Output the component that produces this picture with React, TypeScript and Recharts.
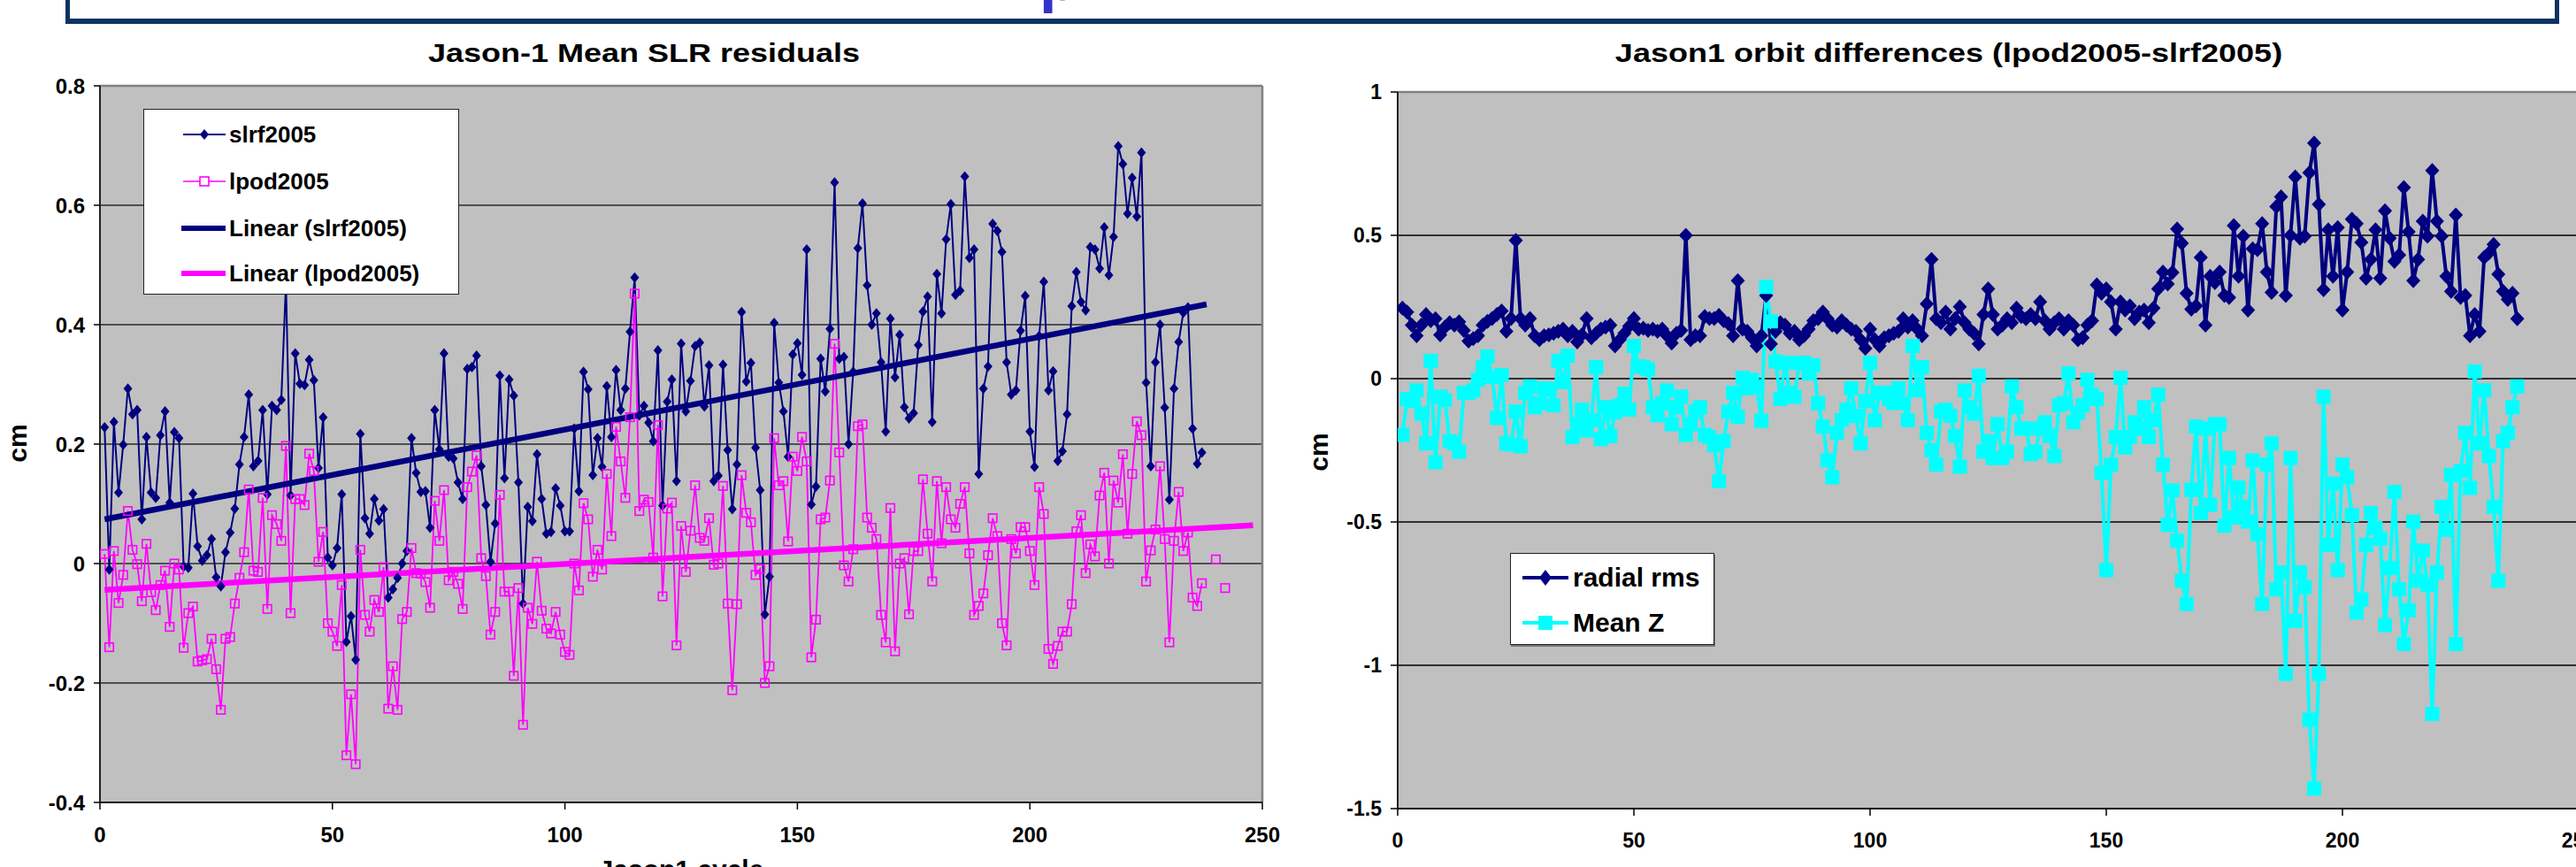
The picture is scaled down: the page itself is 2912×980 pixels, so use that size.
import React from 'react';
import { LineChart, Line, XAxis, YAxis, CartesianGrid, ReferenceLine, Legend } from 'recharts';

const FONT = "'Liberation Sans', Arial, Helvetica, sans-serif";

// ---------------- Left chart data (Jason-1 cycles, cm) ----------------
const leftFirstCycle = 1;
const slrf2005 = [
  0.228, -0.01, 0.237, 0.119, 0.199, 0.293, 0.25, 0.257, 0.074, 0.212,
  0.119, 0.11, 0.215, 0.255, 0.102, 0.22, 0.21, -0.005, -0.007, 0.117,
  0.029, 0.005, 0.014, 0.041, -0.023, -0.038, 0.019, 0.052, 0.092, 0.166,
  0.212, 0.283, 0.163, 0.172, 0.257, 0.116, 0.264, 0.257, 0.274, 0.47,
  0.114, 0.352, 0.301, 0.299, 0.341, 0.307, 0.16, 0.245, 0.01, -0.003,
  0.026, 0.116, -0.131, -0.088, -0.161, 0.217, 0.076, 0.05, 0.108, 0.072,
  0.091, -0.057, -0.043, -0.024, 0.0, 0.021, 0.21, 0.152, 0.12, 0.121,
  0.06, 0.257, 0.191, 0.352, 0.179, 0.176, 0.136, 0.108, 0.326, 0.329,
  0.348, 0.163, 0.098, 0.003, 0.067, 0.315, 0.143, 0.308, 0.281, 0.136,
  -0.067, 0.095, 0.071, 0.183, 0.108, 0.05, 0.053, 0.126, 0.097, 0.054,
  0.054, 0.226, 0.121, 0.321, 0.292, 0.148, 0.21, 0.162, 0.297, 0.212,
  0.324, 0.257, 0.293, 0.388, 0.479, 0.248, 0.264, 0.236, 0.205, 0.357,
  0.097, 0.271, 0.308, 0.138, 0.368, 0.255, 0.306, 0.364, 0.37, 0.263,
  0.332, 0.138, 0.147, 0.333, 0.19, 0.091, 0.166, 0.421, 0.305, 0.336,
  0.194, 0.123, -0.085, -0.022, 0.403, 0.303, 0.255, 0.179, 0.35, 0.369,
  0.316, 0.526, 0.099, 0.129, 0.343, 0.288, 0.393, 0.638, 0.343, 0.346,
  0.2, 0.321, 0.528, 0.603, 0.466, 0.4, 0.419, 0.337, 0.221, 0.41,
  0.312, 0.383, 0.262, 0.243, 0.252, 0.366, 0.422, 0.447, 0.237, 0.485,
  0.419, 0.543, 0.602, 0.45, 0.457, 0.648, 0.512, 0.526, 0.15, 0.293,
  0.33, 0.569, 0.557, 0.522, 0.337, 0.283, 0.29, 0.39, 0.448, 0.221,
  0.162, 0.381, 0.472, 0.29, 0.322, 0.172, 0.188, 0.25, 0.431, 0.488,
  0.438, 0.424, 0.53, 0.526, 0.494, 0.563, 0.483, 0.547, 0.699, 0.669,
  0.586, 0.646, 0.581, 0.688, 0.303, 0.163, 0.337, 0.4, 0.261, 0.107,
  0.293, 0.371, 0.42, 0.429, 0.226, 0.167, 0.186,
];
const lpod2005 = [
  0.016, -0.14, 0.021, -0.066, -0.019, 0.088, 0.023, -0.001, -0.063, 0.033,
  -0.048, -0.078, -0.036, -0.012, -0.106, 0.0, -0.01, -0.141, -0.083, -0.072,
  -0.164, -0.162, -0.16, -0.126, -0.177, -0.245, -0.126, -0.123, -0.067, -0.024,
  0.019, 0.124, -0.012, -0.014, 0.11, -0.076, 0.081, 0.066, 0.038, 0.197,
  -0.083, 0.108, 0.108, 0.098, 0.184, 0.155, 0.003, 0.053, -0.1, -0.114,
  -0.138, -0.036, -0.321, -0.219, -0.336, 0.023, -0.086, -0.114, -0.061, -0.081,
  -0.006, -0.243, -0.172, -0.245, -0.093, -0.081, 0.026, -0.016, -0.017, -0.031,
  -0.074, 0.105, 0.038, 0.123, -0.028, -0.014, -0.034, -0.076, 0.128, 0.154,
  0.181, 0.009, -0.021, -0.119, -0.081, 0.115, -0.047, -0.047, -0.188, -0.041,
  -0.27, -0.074, -0.101, 0.003, -0.079, -0.109, -0.117, -0.081, -0.119, -0.148,
  -0.153, 0.0, -0.045, 0.101, 0.074, -0.022, 0.023, -0.01, 0.15, 0.046,
  0.229, 0.171, 0.11, 0.245, 0.452, 0.088, 0.107, 0.103, 0.01, 0.232,
  -0.055, 0.092, 0.102, -0.137, 0.063, -0.014, 0.055, 0.131, 0.043, 0.038,
  0.076, -0.002, 0.0, 0.13, -0.067, -0.212, -0.068, 0.148, 0.085, 0.069,
  -0.019, -0.009, -0.2, -0.172, 0.21, 0.131, 0.138, 0.037, 0.179, 0.155,
  0.212, 0.171, -0.157, -0.094, 0.074, 0.077, 0.139, 0.368, 0.186, -0.003,
  -0.03, 0.024, 0.23, 0.233, 0.077, 0.06, 0.041, -0.086, -0.132, 0.093,
  -0.147, 0.0, 0.009, -0.085, 0.021, 0.021, 0.141, 0.05, -0.03, 0.138,
  0.034, 0.128, 0.074, 0.06, 0.1, 0.128, 0.017, -0.086, -0.071, -0.05,
  0.014, 0.076, 0.046, -0.1, -0.137, 0.041, 0.017, 0.061, 0.061, 0.021,
  -0.036, 0.128, 0.083, -0.143, -0.168, -0.138, -0.114, -0.114, -0.068, 0.054,
  0.081, -0.016, 0.032, 0.012, 0.114, 0.152, 0.0, 0.139, 0.102, 0.183,
  0.05, 0.15, 0.238, 0.215, -0.03, 0.022, 0.057, 0.163, 0.041, -0.132,
  0.038, 0.12, 0.021, 0.052, -0.057, -0.071, -0.033, null, null, 0.007,
  null, -0.041,
];
// linear trend end points (cycle, cm)
const trendSlrfCycles = [1, 238];
const trendSlrfValues = [0.074, 0.434];
const trendLpodCycles = [1, 248];
const trendLpodValues = [-0.044, 0.064];

const leftXTicks = [0, 50, 100, 150, 200, 250];
const leftYTicks = [-0.4, -0.2, 0, 0.2, 0.4, 0.6, 0.8];
const leftTitle = 'Jason-1 Mean SLR residuals';
const leftXLabel = 'Jason1 cycle';
const leftYLabel = 'cm';
const leftLegendNames = ['slrf2005', 'lpod2005', 'Linear (slrf2005)', 'Linear (lpod2005)'];

// ---------------- Right chart data ----------------
const rightFirstCycle = 1;
const radialRms = [
  0.246, 0.232, 0.187, 0.15, 0.187, 0.224, 0.202, 0.209, 0.153, 0.18,
  0.195, 0.187, 0.198, 0.168, 0.131, 0.14, 0.15, 0.187, 0.2, 0.21,
  0.224, 0.236, 0.165, 0.21, 0.482, 0.21, 0.187, 0.21, 0.15, 0.136,
  0.15, 0.153, 0.158, 0.165, 0.173, 0.15, 0.165, 0.128, 0.153, 0.21,
  0.143, 0.158, 0.173, 0.18, 0.187, 0.114, 0.136, 0.158, 0.183, 0.21,
  0.173, 0.176, 0.168, 0.173, 0.165, 0.173, 0.15, 0.124, 0.158, 0.168,
  0.5, 0.136, 0.15, 0.15, 0.217, 0.21, 0.21, 0.221, 0.202, 0.192,
  0.15, 0.342, 0.173, 0.165, 0.143, 0.114, 0.15, 0.29, 0.121, 0.165,
  0.195, 0.187, 0.158, 0.165, 0.136, 0.15, 0.173, 0.202, 0.209, 0.232,
  0.209, 0.187, 0.18, 0.202, 0.187, 0.173, 0.165, 0.136, 0.106, 0.173,
  0.136, 0.114, 0.143, 0.15, 0.158, 0.165, 0.209, 0.18, 0.202, 0.173,
  0.15, 0.261, 0.416, 0.209, 0.195, 0.232, 0.173, 0.209, 0.251, 0.195,
  0.173, 0.158, 0.121, 0.224, 0.313, 0.224, 0.173, 0.187, 0.209, 0.195,
  0.246, 0.217, 0.209, 0.224, 0.209, 0.268, 0.202, 0.173, 0.195, 0.209,
  0.173, 0.202, 0.187, 0.136, 0.143, 0.187, 0.202, 0.327, 0.298, 0.313,
  0.268, 0.173, 0.268, 0.239, 0.254, 0.209, 0.232, 0.239, 0.195, 0.246,
  0.313, 0.372, 0.33, 0.37, 0.522, 0.472, 0.298, 0.242, 0.254, 0.423,
  0.187, 0.357, 0.335, 0.372, 0.29, 0.283, 0.534, 0.357, 0.497, 0.239,
  0.453, 0.45, 0.541, 0.372, 0.301, 0.6, 0.634, 0.29, 0.5, 0.704,
  0.49, 0.497, 0.718, 0.822, 0.608, 0.31, 0.519, 0.357, 0.527, 0.239,
  0.372, 0.556, 0.541, 0.475, 0.35, 0.416, 0.519, 0.35, 0.586, 0.49,
  0.409, 0.431, 0.667, 0.512, 0.342, 0.416, 0.549, 0.497, 0.726, 0.549,
  0.497, 0.357, 0.305, 0.571, 0.283, 0.29, 0.15, 0.224, 0.165, 0.423,
  0.438, 0.468, 0.364, 0.305, 0.276, 0.298, 0.209,
];
const meanZ = [
  -0.196, -0.071, -0.078, -0.041, -0.122, -0.226, 0.062, -0.292, -0.063, -0.074,
  -0.218, -0.226, -0.255, -0.049, -0.049, -0.041, -0.004, 0.04, 0.077, 0.006,
  -0.137, 0.013, -0.226, -0.23, -0.115, -0.236, -0.049, -0.027, -0.1, -0.086,
  -0.034, -0.038, -0.093, 0.062, -0.012, 0.08, -0.204, -0.159, -0.108, -0.181,
  -0.145, 0.04, -0.211, -0.1, -0.2, -0.118, -0.093, -0.053, -0.108, 0.114,
  0.043, 0.04, 0.032, -0.1, -0.127, -0.086, -0.041, -0.159, -0.1, -0.063,
  -0.196, -0.159, -0.115, -0.1, -0.196, -0.204, -0.233, -0.358, -0.218, -0.115,
  -0.049, -0.133, 0.003, -0.034, -0.004, -0.027, -0.147, 0.32, 0.2, 0.06,
  -0.071, 0.055, -0.049, -0.063, 0.055, 0.055, 0.018, 0.047, -0.086, -0.167,
  -0.285, -0.344, -0.189, -0.145, -0.108, -0.034, -0.13, -0.226, -0.078, 0.055,
  -0.145, -0.049, -0.049, -0.071, -0.086, -0.034, -0.086, -0.145, 0.114, -0.041,
  0.04, -0.189, -0.25, -0.3, -0.115, -0.108, -0.13, -0.2, -0.307, -0.041,
  -0.1, -0.122, 0.01, -0.255, -0.218, -0.277, -0.159, -0.277, -0.255, -0.027,
  -0.1, -0.174, -0.174, -0.263, -0.255, -0.174, -0.152, -0.2, -0.27, -0.093,
  -0.086, 0.018, -0.152, -0.12, -0.093, -0.004, -0.056, -0.071, -0.329, -0.668,
  -0.3, -0.204, 0.003, -0.24, -0.204, -0.152, -0.174, -0.1, -0.204, -0.145,
  -0.056, -0.3, -0.51, -0.39, -0.565, -0.705, -0.786, -0.388, -0.167, -0.469,
  -0.174, -0.44, -0.159, -0.159, -0.513, -0.277, -0.484, -0.38, -0.447, -0.499,
  -0.285, -0.543, -0.786, -0.3, -0.226, -0.735, -0.676, -1.03, -0.277, -0.845,
  -0.676, -0.727, -1.19, -1.43, -1.03, -0.063, -0.58, -0.366, -0.668, -0.3,
  -0.344, -0.476, -0.816, -0.771, -0.58, -0.469, -0.521, -0.558, -0.86, -0.661,
  -0.395, -0.735, -0.926, -0.808, -0.499, -0.705, -0.6, -0.72, -1.17, -0.676,
  -0.447, -0.528, -0.336, -0.926, -0.322, -0.189, -0.381, 0.025, -0.226, -0.041,
  -0.27, -0.447, -0.705, -0.218, -0.189, -0.1, -0.027,
];
const rightXTicks = [0, 50, 100, 150, 200, 250];
const rightYTicks = [-1.5, -1, -0.5, 0, 0.5, 1];
const rightTitle = 'Jason1 orbit differences (lpod2005-slrf2005)';
const rightYLabel = 'cm';
const rightLegendNames = ['radial rms', 'Mean Z'];

const headerGlyph = 'p';

// ---------------- build tables ----------------
const toPoints = (vals: (number | null)[], first: number) => vals.map((v, i) => ({ x: first + i, y: v }));
const pairPoints = (xs: number[], ys: number[]) => xs.map((x, i) => ({ x, y: ys[i] }));

const slrfData = toPoints(slrf2005, leftFirstCycle);
const lpodData = toPoints(lpod2005, leftFirstCycle);
const trendSlrfData = pairPoints(trendSlrfCycles, trendSlrfValues);
const trendLpodData = pairPoints(trendLpodCycles, trendLpodValues);
const rmsData = toPoints(radialRms, rightFirstCycle);
const meanZData = toPoints(meanZ, rightFirstCycle);

const NAVY = '#000080';
const MAGENTA = '#FF00FF';
const CYAN = '#00FFFF';
const PLOT_BG = '#C0C0C0';

const makeDiamond = (w: number, h: number, fill: string, prefix: string) => (props: any) => {
  const { cx, cy, index } = props;
  if (cx == null || cy == null || Number.isNaN(cx) || Number.isNaN(cy)) return <g key={`${prefix}-${index}`} />;
  return (
    <path
      key={`${prefix}-${index}`}
      d={`M${cx},${cy - h / 2}L${cx + w / 2},${cy}L${cx},${cy + h / 2}L${cx - w / 2},${cy}Z`}
      fill={fill}
      stroke="none"
    />
  );
};

const makeSquare = (s: number, fill: string, stroke: string, sw: number, prefix: string) => (props: any) => {
  const { cx, cy, index } = props;
  if (cx == null || cy == null || Number.isNaN(cx) || Number.isNaN(cy)) return <g key={`${prefix}-${index}`} />;
  return <rect key={`${prefix}-${index}`} x={cx - s / 2} y={cy - s / 2} width={s} height={s} fill={fill} stroke={stroke} strokeWidth={sw} />;
};

const slrfDot = makeDiamond(10, 12, NAVY, 'sd');
const lpodDot = makeSquare(9.5, 'none', MAGENTA, 1.6, 'ld');
const rmsDot = makeDiamond(16, 17, NAVY, 'rd');
const meanZDot = makeSquare(16, CYAN, 'none', 0, 'md');

const LeftLegend = () => {
  const rowsY = [28, 81, 134, 185];
  const icons = [
    <svg width={52} height={20} key="i0">
      <line x1={2} y1={10} x2={50} y2={10} stroke={NAVY} strokeWidth={2} />
      <path d="M26,4L31,10L26,16L21,10Z" fill={NAVY} />
    </svg>,
    <svg width={52} height={20} key="i1">
      <line x1={2} y1={10} x2={50} y2={10} stroke={MAGENTA} strokeWidth={1.6} />
      <rect x={21} y={5} width={10} height={10} fill="#fff" stroke={MAGENTA} strokeWidth={1.6} />
    </svg>,
    <svg width={52} height={20} key="i2">
      <line x1={0} y1={10} x2={50} y2={10} stroke={NAVY} strokeWidth={6} />
    </svg>,
    <svg width={52} height={20} key="i3">
      <line x1={0} y1={10} x2={50} y2={10} stroke={MAGENTA} strokeWidth={6} />
    </svg>,
  ];
  return (
    <div style={{ position: 'relative', width: 357, height: 210, background: '#fff', border: '1.5px solid #222', boxSizing: 'border-box' }}>
      {leftLegendNames.map((name, i) => (
        <React.Fragment key={name}>
          <div style={{ position: 'absolute', left: 42, top: rowsY[i] - 10, height: 20 }}>{icons[i]}</div>
          <div style={{ position: 'absolute', left: 96, top: rowsY[i] - 16, height: 32, lineHeight: '32px', fontFamily: FONT, fontWeight: 700, fontSize: 26, color: '#000', whiteSpace: 'nowrap' }}>{name}</div>
        </React.Fragment>
      ))}
    </div>
  );
};

const RightLegend = () => {
  const rowsY = [27, 78];
  const icons = [
    <svg width={54} height={24} key="r0">
      <line x1={0} y1={12} x2={52} y2={12} stroke={NAVY} strokeWidth={4} />
      <path d="M26,3L33,12L26,21L19,12Z" fill={NAVY} />
    </svg>,
    <svg width={54} height={24} key="r1">
      <line x1={0} y1={12} x2={52} y2={12} stroke={CYAN} strokeWidth={4} />
      <rect x={18} y={4} width={16} height={16} fill={CYAN} />
    </svg>,
  ];
  return (
    <div style={{ position: 'relative', width: 231, height: 104, background: '#fff', border: '1.5px solid #222', boxShadow: '1px 2px 0 #777', boxSizing: 'border-box' }}>
      {rightLegendNames.map((name, i) => (
        <React.Fragment key={name}>
          <div style={{ position: 'absolute', left: 13, top: rowsY[i] - 12, height: 24 }}>{icons[i]}</div>
          <div style={{ position: 'absolute', left: 70, top: rowsY[i] - 18, height: 36, lineHeight: '36px', fontFamily: FONT, fontWeight: 700, fontSize: 30, color: '#000', whiteSpace: 'nowrap' }}>{name}</div>
        </React.Fragment>
      ))}
    </div>
  );
};

const tickStyleLeft = { fontSize: 24, fontWeight: 700, fill: '#000', fontFamily: FONT };
const tickStyleRight = { fontSize: 23, fontWeight: 700, fill: '#000', fontFamily: FONT };

const titleStyle = (cx: number): React.CSSProperties => ({
  position: 'absolute',
  left: cx - 600,
  width: 1200,
  top: 45,
  height: 30,
  lineHeight: '30px',
  textAlign: 'center',
  fontFamily: FONT,
  fontWeight: 700,
  fontSize: 30,
  color: '#000',
  transform: 'scaleX(1.2)',
  transformOrigin: 'center',
  whiteSpace: 'nowrap',
});

const axisTitleStyle: React.CSSProperties = {
  position: 'absolute',
  fontFamily: FONT,
  fontWeight: 700,
  fontSize: 30,
  color: '#000',
  whiteSpace: 'nowrap',
  lineHeight: '30px',
  height: 30,
};

export default function App() {
  return (
    <div style={{ position: 'fixed', left: 0, top: 0, width: 2912, height: 980, overflow: 'hidden', background: '#fff' }}>
      {/* slide header box */}
      <div style={{ position: 'absolute', left: 74, top: -20, width: 2819, height: 47, boxSizing: 'border-box', borderLeft: '5px solid #0B3264', borderRight: '5px solid #0B3264', borderBottom: '6px solid #0B3264', background: '#fff', overflow: 'hidden' }}>
        <div style={{ position: 'absolute', left: 1175 - 79, top: 20 - 59, fontFamily: FONT, fontWeight: 700, fontSize: 70, lineHeight: '70px', color: '#3333CC' }}>{headerGlyph}</div>
      </div>

      {/* ---------- left chart ---------- */}
      <div style={titleStyle(728)}>{leftTitle}</div>
      <div style={{ ...axisTitleStyle, left: 20 - 40, top: 501 - 15, width: 80, textAlign: 'center', transform: 'rotate(-90deg)' }}>{leftYLabel}</div>
      <div style={{ ...axisTitleStyle, left: 770 - 200, top: 968, width: 400, textAlign: 'center' }}>{leftXLabel}</div>
      <div style={{ position: 'absolute', left: 0, top: 0 }}>
        <LineChart width={1460} height={980} margin={{ top: 97, right: 33, bottom: 33, left: 53 }}>
          <CartesianGrid vertical={false} fill={PLOT_BG} fillOpacity={1} stroke="#2a2a2a" strokeWidth={1.5} />
          <XAxis
            type="number"
            dataKey="x"
            domain={[0, 250]}
            ticks={leftXTicks}
            allowDataOverflow
            height={40}
            tickSize={8}
            tickMargin={20}
            tick={tickStyleLeft}
            axisLine={{ stroke: '#000', strokeWidth: 1.5 }}
            tickLine={{ stroke: '#000', strokeWidth: 1.5 }}
          />
          <YAxis
            type="number"
            domain={[-0.4, 0.8]}
            ticks={leftYTicks}
            allowDataOverflow
            width={60}
            tickSize={7}
            tickMargin={10}
            tick={tickStyleLeft}
            tickFormatter={(v: number) => String(v)}
            axisLine={{ stroke: '#222', strokeWidth: 2 }}
            tickLine={{ stroke: '#000', strokeWidth: 1.5 }}
          />
          <ReferenceLine y={0.8} stroke="#808080" strokeWidth={2.5} />
          <ReferenceLine x={250} stroke="#808080" strokeWidth={2.5} />
          <Line data={slrfData} dataKey="y" type="linear" stroke={NAVY} strokeWidth={2} dot={slrfDot} activeDot={false} isAnimationActive={false} connectNulls={false} />
          <Line data={lpodData} dataKey="y" type="linear" stroke={MAGENTA} strokeWidth={1.8} dot={lpodDot} activeDot={false} isAnimationActive={false} connectNulls={false} />
          <Line data={trendSlrfData} dataKey="y" type="linear" stroke={NAVY} strokeWidth={6.5} dot={false} activeDot={false} isAnimationActive={false} />
          <Line data={trendLpodData} dataKey="y" type="linear" stroke={MAGENTA} strokeWidth={6.5} dot={false} activeDot={false} isAnimationActive={false} />
          <Legend
            layout="horizontal"
            verticalAlign="middle"
            align="center"
            wrapperStyle={{ left: 162, top: 123, width: 357, height: 210 }}
            content={() => <LeftLegend />}
          />
        </LineChart>
      </div>

      {/* ---------- right chart ---------- */}
      <div style={titleStyle(2203)}>{rightTitle}</div>
      <div style={{ ...axisTitleStyle, left: 1491 - 40, top: 511 - 15, width: 80, textAlign: 'center', transform: 'rotate(-90deg)' }}>{rightYLabel}</div>
      <div style={{ position: 'absolute', left: 1456, top: 0 }}>
        <LineChart width={1479} height={980} margin={{ top: 104, right: 20, bottom: 26, left: 60 }}>
          <CartesianGrid vertical={false} fill={PLOT_BG} fillOpacity={1} stroke="#000" strokeWidth={1.5} />
          <XAxis
            type="number"
            dataKey="x"
            domain={[0, 250]}
            ticks={rightXTicks}
            allowDataOverflow
            height={40}
            tickSize={8}
            tickMargin={20}
            tick={tickStyleRight}
            axisLine={{ stroke: '#000', strokeWidth: 1.5 }}
            tickLine={{ stroke: '#000', strokeWidth: 1.5 }}
          />
          <YAxis
            type="number"
            domain={[-1.5, 1]}
            ticks={rightYTicks}
            allowDataOverflow
            width={64}
            tickSize={8}
            tickMargin={10}
            tick={tickStyleRight}
            tickFormatter={(v: number) => String(v)}
            axisLine={{ stroke: '#222', strokeWidth: 2 }}
            tickLine={{ stroke: '#000', strokeWidth: 1.5 }}
          />
          <ReferenceLine y={1} stroke="#808080" strokeWidth={2.5} />
          <Line data={rmsData} dataKey="y" type="linear" stroke={NAVY} strokeWidth={4} dot={rmsDot} activeDot={false} isAnimationActive={false} />
          <Line data={meanZData} dataKey="y" type="linear" stroke={CYAN} strokeWidth={4} dot={meanZDot} activeDot={false} isAnimationActive={false} />
          <Legend
            layout="horizontal"
            verticalAlign="middle"
            align="center"
            wrapperStyle={{ left: 251, top: 625, width: 231, height: 104 }}
            content={() => <RightLegend />}
          />
        </LineChart>
      </div>
    </div>
  );
}
